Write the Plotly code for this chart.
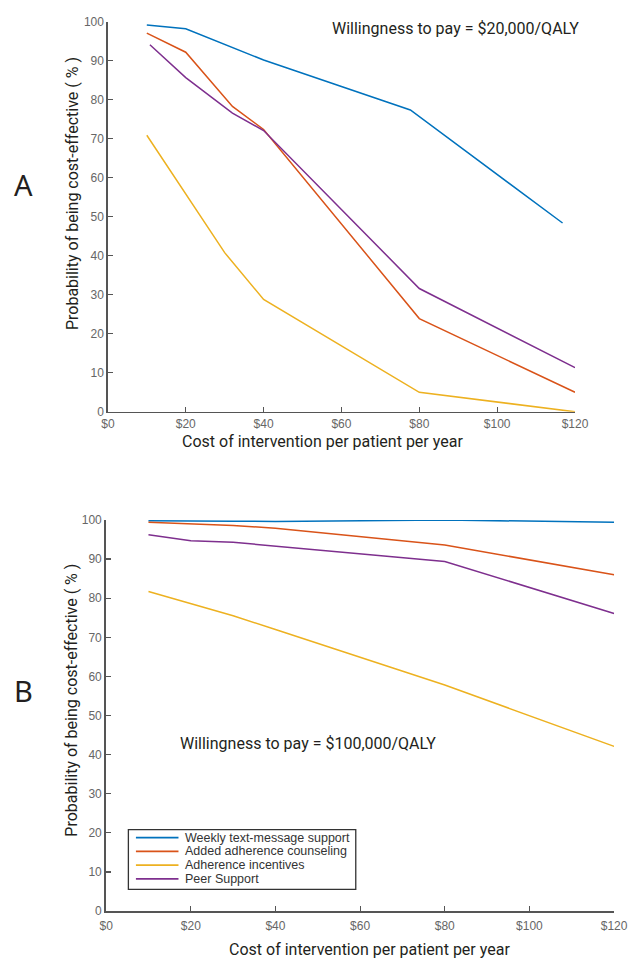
import plotly.graph_objects as go

W, H = 640, 970

series_names = ["Weekly text-message support", "Added adherence counseling",
                "Adherence incentives", "Peer Support"]
series_colors = ["#0072BD", "#D95319", "#EDB120", "#7E2F8E"]

# Panel A: willingness to pay = $20,000/QALY
a_text_x = [10, 20, 40, 77.7, 116.8]
a_text_y = [99.2, 98.2, 90.2, 77.4, 48.4]
a_couns_x = [10, 20, 32, 40, 80, 120]
a_couns_y = [97.1, 92.2, 78.3, 72.4, 23.9, 5.0]
a_incent_x = [10, 30, 40, 80, 120]
a_incent_y = [70.9, 40.8, 28.8, 5.0, 0.0]
a_peer_x = [10.8, 20, 32, 40, 80, 120]
a_peer_y = [94.1, 85.7, 76.6, 72.1, 31.6, 11.3]

# Panel B: willingness to pay = $100,000/QALY
b_cost = [10, 20, 30, 40, 80, 120]
b_text_y = [99.8, 99.8, 99.7, 99.6, 100.0, 99.4]
b_couns_y = [99.4, 99.0, 98.6, 97.9, 93.6, 86.0]
b_incent_y = [81.7, 78.5, 75.5, 72.0, 57.8, 42.1]
b_peer_y = [96.2, 94.7, 94.3, 93.3, 89.4, 76.1]

x_tickvals = [0, 20, 40, 60, 80, 100, 120]
x_ticktext = ["$0", "$20", "$40", "$60", "$80", "$100", "$120"]
y_tickvals = [0, 10, 20, 30, 40, 50, 60, 70, 80, 90, 100]

x_title = "Cost of intervention per patient per year"
y_title = "Probability of being cost-effective ( % )"
wtp_a = "Willingness to pay = $20,000/QALY"
wtp_b = "Willingness to pay = $100,000/QALY"


def px(x):
    return x / W


def py(y):
    return 1 - y / H


fig = go.Figure()

panel_a = [(a_text_x, a_text_y), (a_couns_x, a_couns_y),
           (a_incent_x, a_incent_y), (a_peer_x, a_peer_y)]
for (xs, ys), name, col in zip(panel_a, series_names, series_colors):
    fig.add_trace(go.Scatter(x=xs, y=ys, mode="lines", name=name,
                             line=dict(color=col, width=1.5),
                             xaxis="x", yaxis="y", showlegend=False))

panel_b = [b_text_y, b_couns_y, b_incent_y, b_peer_y]
for ys, name, col in zip(panel_b, series_names, series_colors):
    fig.add_trace(go.Scatter(x=b_cost, y=ys, mode="lines", name=name,
                             line=dict(color=col, width=1.5),
                             xaxis="x2", yaxis="y2", showlegend=False))

tick_font = dict(family="Liberation Sans, Arial, sans-serif", size=12, color="#666666")
axis_common = dict(showline=True, linecolor="#555555", linewidth=1.5,
                   ticks="inside", ticklen=5, tickwidth=1.2, tickcolor="#555555",
                   showgrid=False, zeroline=False, tickfont=tick_font,
                   autorange=False)

fig.update_layout(
    width=W, height=H,
    margin=dict(l=0, r=0, t=0, b=0),
    paper_bgcolor="white", plot_bgcolor="white",
    xaxis=dict(domain=[px(104.3), px(587.3)], anchor="y", range=[0, 120],
               tickvals=x_tickvals, ticktext=x_ticktext, **axis_common),
    yaxis=dict(domain=[py(410.7), py(15.0)], anchor="x", range=[0, 100],
               tickvals=y_tickvals, **axis_common),
    xaxis2=dict(domain=[px(102.5), px(627.7)], anchor="y2", range=[0, 120],
                tickvals=x_tickvals, ticktext=x_ticktext, ticklabelstandoff=3,
                **axis_common),
    yaxis2=dict(domain=[py(917.3), py(520.5)], anchor="x2", range=[0, 100],
                tickvals=y_tickvals, **axis_common),
)
fig.update_layout(yaxis2_linewidth=2)

title_font = dict(family="Roboto, sans-serif", size=16, color="#231f20")
ann = []
# axis titles
ann.append(dict(text=x_title, x=px(326), y=py(441), xref="paper", yref="paper",
                showarrow=False, xanchor="center", yanchor="middle", font=title_font))
ann.append(dict(text=x_title, x=px(375), y=py(956.5), xref="paper", yref="paper",
                showarrow=False, xanchor="center", yanchor="middle", font=title_font))
ann.append(dict(text=y_title, x=px(67), y=py(189), xref="paper", yref="paper",
                showarrow=False, xanchor="center", yanchor="middle", textangle=-90,
                font=title_font))
ann.append(dict(text=y_title, x=px(67), y=py(703), xref="paper", yref="paper",
                showarrow=False, xanchor="center", yanchor="middle", textangle=-90,
                font=title_font))
# willingness-to-pay notes
ann.append(dict(text=wtp_a, x=px(593.6), y=py(22), xref="paper", yref="paper",
                showarrow=False, xanchor="right", yanchor="middle", font=title_font))
ann.append(dict(text=wtp_b, x=px(177), y=py(747), xref="paper", yref="paper",
                showarrow=False, xanchor="left", yanchor="middle", font=title_font))
# panel letters
letter_font = dict(family="Noto Sans, sans-serif", size=29, color="#231f20")
ann.append(dict(text="A", x=px(17), y=py(180), xref="paper", yref="paper",
                showarrow=False, xanchor="center", yanchor="middle", font=letter_font))
ann.append(dict(text="B", x=px(17), y=py(694), xref="paper", yref="paper",
                showarrow=False, xanchor="center", yanchor="middle", font=letter_font))

# legend (drawn as a compact box inside panel B)
shapes = []
shapes.append(dict(type="rect", xref="paper", yref="paper",
                   x0=px(125.5), x1=px(360.6), y0=py(895.3), y1=py(834.7),
                   line=dict(color="#333333", width=1.3), fillcolor="white", layer="above"))
legend_font = dict(family="Liberation Sans, Arial, sans-serif", size=12.5, color="#333333")
row_y0, row_step = 842.7, 14.0
for i, (name, col) in enumerate(zip(series_names, series_colors)):
    ry = row_y0 + i * row_step
    shapes.append(dict(type="line", xref="paper", yref="paper",
                       x0=px(133.3), x1=px(177.3), y0=py(ry), y1=py(ry),
                       line=dict(color=col, width=1.8), layer="above"))
    ann.append(dict(text=name, x=px(181.5), y=py(ry), xref="paper", yref="paper",
                    showarrow=False, xanchor="left", yanchor="middle", font=legend_font))

fig.update_layout(annotations=ann, shapes=shapes)

fig.write_html("out.html",
               config={"displayModeBar": False, "staticPlot": True},
               post_script="document.body.style.margin='0px';"
                           "document.body.style.padding='0px';")
